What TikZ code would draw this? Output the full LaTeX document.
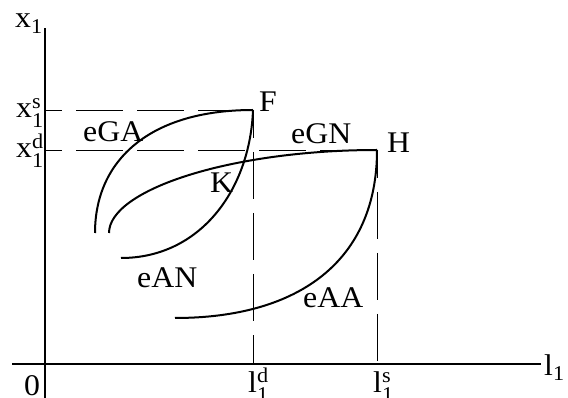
\documentclass[tikz,border=0pt]{standalone}
\usepackage{amsmath}
\usepackage{fontspec}
\setmainfont{Liberation Serif}[FakeStretch=1.06]

\begin{document}
\begin{tikzpicture}[
		x=1pt, y=-1pt,
		lab/.style={inner sep=0pt, anchor=base west, font=\fontsize{30}{35}\selectfont},
		ax/.style={line width=2.4pt},
		crv/.style={line width=2pt},
		dsh/.style={line width=0.9pt, dash pattern=on 47pt off 14pt}
		]
		\useasboundingbox (0,0) rectangle (568,398);
		
		%Points
		\coordinate (O)   at (45, 364);
		\coordinate (F)   at (253, 110);
		\coordinate (H)   at (377, 150);
		\coordinate (Fx)  at (45, 110);
		\coordinate (Hx)  at (45, 150);
		\coordinate (Fl)  at (253, 364);
		\coordinate (Hl)  at (377, 364);
		\coordinate (yb)  at (45, 398);
		\coordinate (yt)  at (45, 28);
		\coordinate (xb)  at (12, 364);
		\coordinate (xt)  at (541, 364);
		\coordinate (gaS) at (95, 233);
		\coordinate (anE) at (121, 258);
		\coordinate (gnS) at (109, 233);
		\coordinate (aaE) at (175, 318);
		
		%Labels
		\node[lab] (xl)  at (15, 28)   {x$_{\text{1}}$};
		\node[lab] (xs)  at (16, 118)  {x$^{\text{s}}_{\text{1}}$};
		\node[lab] (xd)  at (16, 158)  {x$^{\text{d}}_{\text{1}}$};
		\node[lab] (zr)  at (24, 395)  {0};
		\node[lab] (ld)  at (248, 392) {l$^{\text{d}}_{\text{1}}$};
		\node[lab] (ls)  at (373, 392) {l$^{\text{s}}_{\text{1}}$};
		\node[lab] (ll)  at (544, 375) {l$_{\text{1}}$};
		\node[lab] (Fn)  at (259, 112) {F};
		\node[lab] (Hn)  at (387, 153) {H};
		\node[lab] (Kn)  at (210, 193) {K};
		\node[lab] (gA)  at (83, 142)  {eGA};
		\node[lab] (gN)  at (291, 144) {eGN};
		\node[lab] (aN)  at (137, 288) {eAN};
		\node[lab] (aA)  at (303, 308) {eAA};
		
		%Guides
		\draw[dsh, dash phase=30pt] (Fx) -- (F);
		\draw[dsh, dash phase=30pt] (Hx) -- (H);
		\draw[dsh, dash phase=19pt] (F) -- (Fl);
		\draw[dsh, dash phase=19pt] (H) -- (Hl);
		
		%Axes
		\draw[ax] (yb) -- (yt);
		\draw[ax] (xb) -- (xt);
		
		%Curves
		\draw[crv] (gaS) .. controls (95, 160) and (150, 110) .. (F);
		\draw[crv] (F) .. controls (250, 190) and (200, 258) .. (anE);
		\draw[crv] (gnS) .. controls (109, 190) and (230, 150) .. (H);
		\draw[crv] (H) .. controls (377, 260) and (300, 318) .. (aaE);
		
	\end{tikzpicture}
\end{document}
